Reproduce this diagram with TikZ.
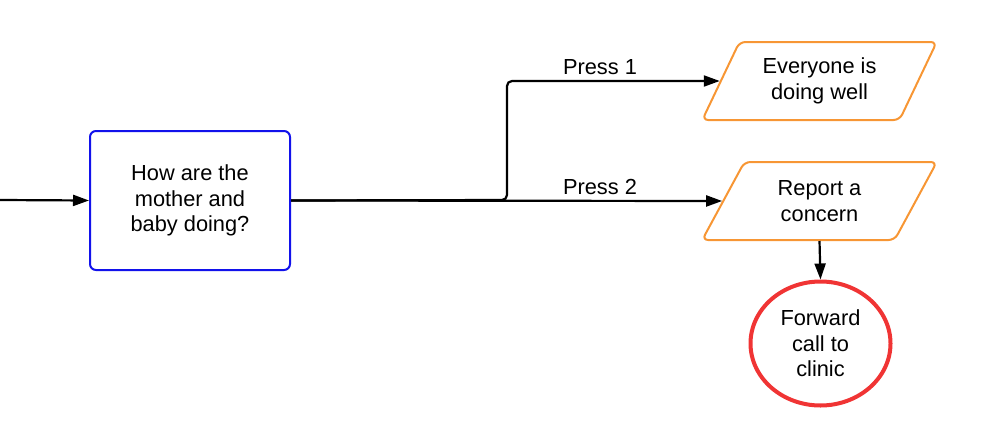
\documentclass[tikz,border=0pt]{standalone}
\usepackage{fontspec}
\setmainfont{Liberation Sans}
\usetikzlibrary{shapes.geometric,arrows.meta}
\definecolor{qblue}{RGB}{18,18,235}
\definecolor{porange}{RGB}{247,150,52}
\definecolor{ered}{RGB}{240,52,52}
\tikzset{
  flow/.style={draw=black, line width=2.2pt, -{Triangle[length=16pt,width=11pt]}},
  question/.style={rectangle, rounded corners=6pt, draw=qblue, line width=2pt, minimum width=200pt, minimum height=139pt, align=center},
  answer/.style={trapezium, trapezium left angle=60, trapezium right angle=120, trapezium stretches=true, rounded corners=6pt, draw=porange, line width=2pt, minimum width=235pt, minimum height=78pt, align=center, inner sep=0pt},
  ending/.style={ellipse, draw=ered, line width=4pt, minimum width=140pt, minimum height=124pt, align=center, inner sep=0pt}
}
\begin{document}
\begin{tikzpicture}[x=1pt, y=-1pt, font=\fontsize{21.8}{25.5}\selectfont]
  \useasboundingbox (0,0) rectangle (1001,439);
  % pergunta - caixa azul
  \coordinate (start) at (0,200);
  \node at (190,200.5) (q) [question] {How are the\\mother and\\baby doing?};
  % respostas - laranja
  \node at (819.5,81) (p1) [answer] {Everyone is\\doing well};
  \node at (819.5,201) (p2) [answer] {Report a\\concern};
  \node at (820.5,343.5) (clinic) [ending] {Forward\\call to\\clinic};
  \coordinate (split) at (507,200);
  \node at (600,67) (l1) {Press 1};
  \node at (600,187) (l2) {Press 2};
  \draw[flow] (start) -- (q.west);
  \draw[flow] (q.east) -- (p2.west);
  \draw[flow, rounded corners=5pt] (q.east) -- (split) |- (p1.west);
  \draw[flow] (p2.south) -- (clinic.north);
\end{tikzpicture}
\end{document}
